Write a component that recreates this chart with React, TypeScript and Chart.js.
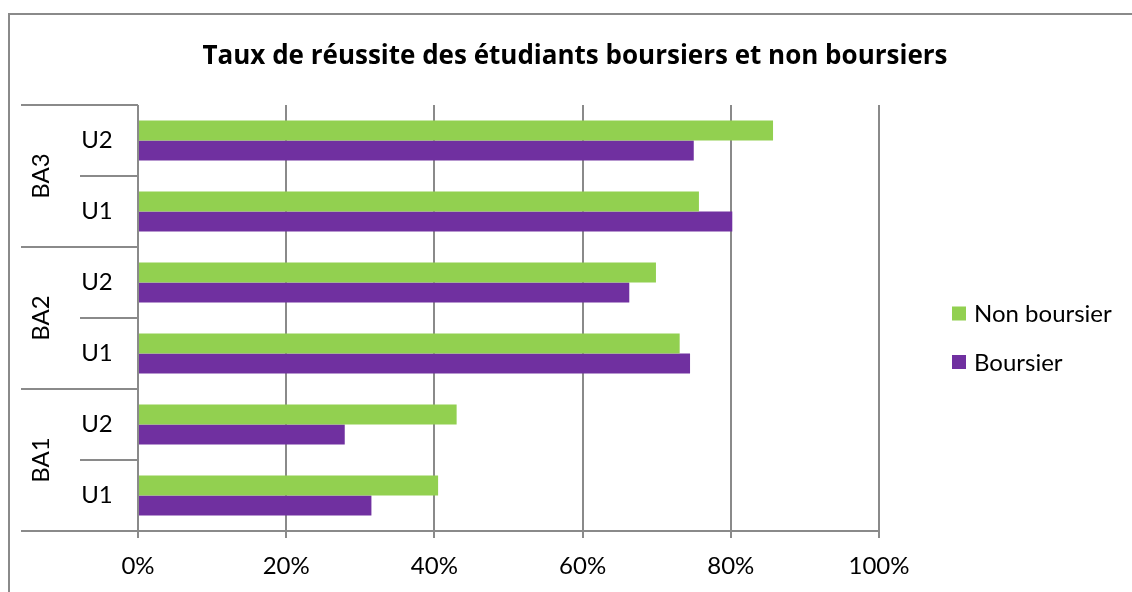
import React, { useEffect, useRef } from "react";
import { Chart, registerables } from "chart.js";

Chart.register(...registerables);

const title = "Taux de réussite des étudiants boursiers et non boursiers";
const categories = ["U2", "U1", "U2", "U1", "U2", "U1"];
const groupLabels = ["BA3", "BA3", "BA2", "BA2", "BA1", "BA1"];
const seriesNames = ["Non boursier", "Boursier"];
const nonBoursier = [85.7, 75.7, 69.9, 73.1, 43.0, 40.5];
const boursier = [75.0, 80.2, 66.3, 74.5, 27.9, 31.5];
const xTicks = [0, 20, 40, 60, 80, 100];

const GREEN = "#92D050";
const PURPLE = "#7030A0";
const GRID = "#8a8a8a";
const FONT = "Lato";

const hierPlugin = {
  id: "hier",
  afterDraw(chart: any) {
    const ctx = chart.ctx;
    const y = chart.scales.y;
    const area = chart.chartArea;
    const n = categories.length;
    const bound = (i: number) =>
      i === 0
        ? area.top
        : i === n
        ? area.bottom
        : (y.getPixelForValue(i - 1) + y.getPixelForValue(i)) / 2;
    ctx.save();
    ctx.strokeStyle = GRID;
    ctx.lineWidth = 2;
    for (let i = 0; i <= n; i++) {
      const isGroup = i === 0 || i === n || groupLabels[i] !== groupLabels[i - 1];
      const x0 = isGroup ? 11 : 70;
      const yy = Math.round(bound(i));
      ctx.beginPath();
      ctx.moveTo(x0, yy);
      ctx.lineTo(area.left, yy);
      ctx.stroke();
    }
    ctx.fillStyle = "#000";
    ctx.textAlign = "center";
    ctx.textBaseline = "middle";
    ctx.font = `24px ${FONT}`;
    for (let i = 0; i < n; i++) {
      ctx.fillText(categories[i], 87, y.getPixelForValue(i));
    }
    let start = 0;
    for (let i = 1; i <= n; i++) {
      if (i === n || groupLabels[i] !== groupLabels[start]) {
        const cy = (bound(start) + bound(i)) / 2;
        ctx.save();
        ctx.translate(31, cy);
        ctx.rotate(-Math.PI / 2);
        ctx.fillText(groupLabels[start], 0, 0);
        ctx.restore();
        start = i;
      }
    }
    // title
    ctx.font = `bold 26px "Open Sans"`;
    ctx.fillText(title, 565, 42);
    // legend
    ctx.font = `24px ${FONT}`;
    ctx.textAlign = "left";
    const legendY = [298.5, 347];
    chart.data.datasets.forEach((ds: any, k: number) => {
      ctx.fillStyle = ds.backgroundColor;
      ctx.fillRect(942, legendY[k] - 7, 14, 14);
      ctx.fillStyle = "#000";
      ctx.fillText(ds.label, 964, legendY[k] + 1);
    });
    ctx.restore();
  },
};

export default function App() {
  const ref = useRef<HTMLCanvasElement | null>(null);
  useEffect(() => {
    if (!ref.current) return;
    const chart = new Chart(ref.current, {
      type: "bar",
      data: {
        labels: categories.map((c, i) => groupLabels[i] + " " + c),
        datasets: [
          {
            label: seriesNames[0],
            data: nonBoursier,
            backgroundColor: GREEN,
            categoryPercentage: 0.563,
            barPercentage: 1,
          },
          {
            label: seriesNames[1],
            data: boursier,
            backgroundColor: PURPLE,
            categoryPercentage: 0.563,
            barPercentage: 1,
          },
        ],
      },
      options: {
        indexAxis: "y",
        responsive: false,
        animation: false,
        layout: { padding: { left: 128, right: 253, top: 90, bottom: 0 } },
        plugins: {
          legend: { display: false },
          title: { display: false },
          tooltip: { enabled: false },
        },
        scales: {
          y: { display: false },
          x: {
            min: 0,
            max: 100,
            afterBuildTicks: (s: any) => {
              s.ticks = xTicks.map((v) => ({ value: v }));
            },
            afterFit: (s: any) => {
              s.height = 61;
            },
            ticks: {
              callback: (v: any) => v + "%",
              font: { family: FONT, size: 24 },
              color: "#000",
              padding: 14,
              maxRotation: 0,
            },
            grid: {
              color: GRID,
              lineWidth: 2,
              tickLength: 7,
              drawTicks: true,
            },
            border: { display: true, color: GRID, width: 2 },
          },
        },
      },
      plugins: [hierPlugin],
    } as any);
    return () => chart.destroy();
  }, []);
  return (
    <div
      style={{
        position: "fixed",
        left: 8,
        top: 13,
        width: 1124,
        height: 579,
        boxSizing: "border-box",
        borderTop: "2px solid #8a8a8a",
        borderLeft: "2px solid #8a8a8a",
        overflow: "hidden",
        background: "#fff",
      }}
    >
      <canvas ref={ref} width={1122} height={577} style={{ display: "block" }} />
    </div>
  );
}
